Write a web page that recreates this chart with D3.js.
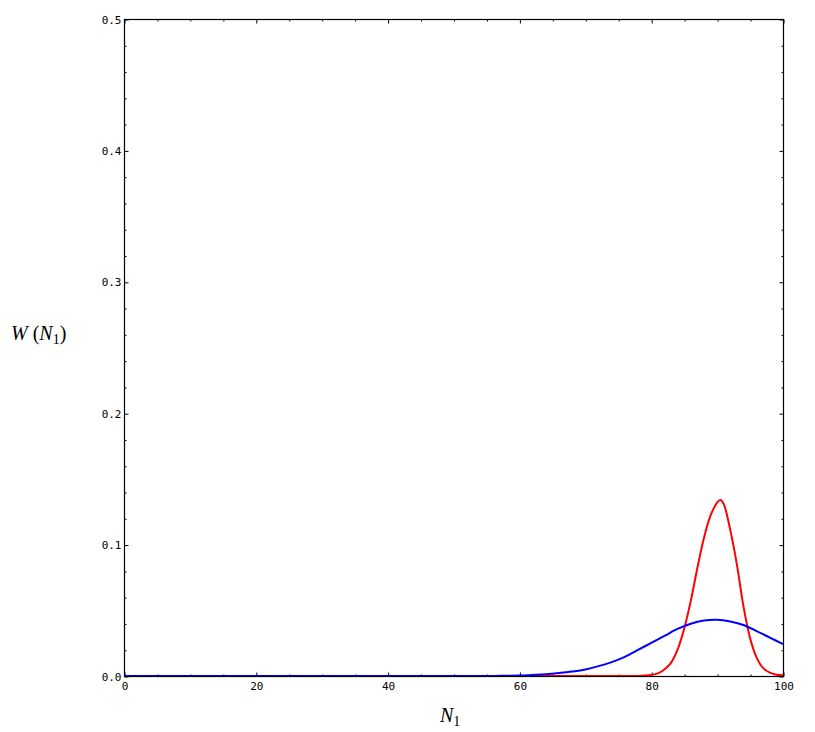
<!DOCTYPE html>
<html>
<head>
<meta charset="utf-8">
<script src="https://cdn.jsdelivr.net/npm/d3@7/dist/d3.min.js"></script>
<style>
  html, body { margin: 0; padding: 0; background: #fff; }
  svg { display: block; }
  .tick text { font-family: "DejaVu Sans Mono", monospace; font-size: 11px; fill: #000; }
  .lbl { font-family: "Liberation Serif", "Times New Roman", serif; font-size: 20px; fill: #000; }
</style>
</head>
<body>
<svg id="chart" width="815" height="732"></svg>
<script>
// ---- data ----
const xMajorTicks = [0, 20, 40, 60, 80, 100];
const yMajorTicks = [0.0, 0.1, 0.2, 0.3, 0.4, 0.5];
const yTickLabels = ["0.0", "0.1", "0.2", "0.3", "0.4", "0.5"];

// red curve (narrow distribution)
const redN = [0, 20, 40, 60, 70, 76, 78, 79, 80, 81, 82, 83, 84, 85, 86, 87, 88, 89, 90, 90.5, 91, 92, 93, 94, 95, 96, 97, 98, 99, 100];
const redW = [0, 0, 0, 0, 0, 0, 0, 0.0003, 0.0008, 0.002, 0.005, 0.010, 0.020, 0.036, 0.057, 0.082, 0.105, 0.122, 0.132, 0.134, 0.131, 0.111, 0.085, 0.053, 0.029, 0.014, 0.006, 0.0025, 0.001, 0.0005];

// blue curve (wide distribution)
const blueN = [0, 20, 40, 50, 56, 58, 60, 62, 64, 66, 68, 70, 72, 74, 76, 78, 80, 82, 84, 86, 88, 90, 92, 94, 96, 98, 100];
const blueW = [0, 0, 0, 0, 0, 0.0002, 0.0004, 0.0008, 0.0013, 0.0022, 0.0034, 0.0050, 0.0075, 0.0106, 0.0146, 0.0198, 0.0252, 0.0305, 0.0358, 0.0398, 0.0422, 0.0428, 0.0414, 0.0388, 0.0342, 0.0292, 0.0243];

// ---- layout ----
const svg = d3.select("#chart");
const L = 124, R = 783, T = 19, B = 676;

const x = d3.scaleLinear().domain([0, 100]).range([L, R]);
const y = d3.scaleLinear().domain([0, 0.5]).range([B, T]);

const xMinor = d3.range(0, 101, 5).filter(v => v % 20 !== 0);
const yMinor = d3.range(0, 0.5001, 0.02).filter(v => Math.abs(v * 10 - Math.round(v * 10)) > 1e-6);

// frame
svg.append("rect").attr("x", L + 0.5).attr("y", T + 0.5)
  .attr("width", R - L).attr("height", B - T)
  .attr("fill", "none").attr("stroke", "#000").attr("stroke-width", 1.2);

function addAxis(axis, transform) {
  const g = svg.append("g").attr("transform", transform).call(axis);
  g.select(".domain").remove();
  g.selectAll(".tick line").attr("stroke", "#000");
  return g;
}

// bottom axis: majors labelled, ticks inward
addAxis(d3.axisBottom(x).tickValues(xMajorTicks).tickSizeInner(-4).tickSizeOuter(0).tickPadding(6).tickFormat(d3.format("d")), `translate(0.5,${B + 0.5})`)
  .selectAll(".tick text").attr("dy", "0.71em");
addAxis(d3.axisBottom(x).tickValues(xMinor).tickSizeInner(-2).tickSizeOuter(0).tickFormat(""), `translate(0.5,${B + 0.5})`);
// top axis
addAxis(d3.axisTop(x).tickValues(xMajorTicks).tickSizeInner(-4).tickSizeOuter(0).tickFormat(""), `translate(0.5,${T + 0.5})`);
addAxis(d3.axisTop(x).tickValues(xMinor).tickSizeInner(-2).tickSizeOuter(0).tickFormat(""), `translate(0.5,${T + 0.5})`);
// left axis
addAxis(d3.axisLeft(y).tickValues(yMajorTicks).tickSizeInner(-4).tickSizeOuter(0).tickPadding(3).tickFormat((d, i) => yTickLabels[i]), `translate(${L + 0.5},0.5)`);
addAxis(d3.axisLeft(y).tickValues(yMinor).tickSizeInner(-2).tickSizeOuter(0).tickFormat(""), `translate(${L + 0.5},0.5)`);
// right axis
addAxis(d3.axisRight(y).tickValues(yMajorTicks).tickSizeInner(-4).tickSizeOuter(0).tickFormat(""), `translate(${R + 0.5},0.5)`);
addAxis(d3.axisRight(y).tickValues(yMinor).tickSizeInner(-2).tickSizeOuter(0).tickFormat(""), `translate(${R + 0.5},0.5)`);

// curves
const line = d3.line().x(d => x(d[0])).y(d => y(Math.max(0, d[1]))).curve(d3.curveCatmullRom.alpha(0.5));
svg.append("clipPath").attr("id", "clip").append("rect")
  .attr("x", L).attr("y", T).attr("width", R - L + 1).attr("height", B - T);

svg.append("path").datum(redN.map((n, i) => [n, redW[i]]))
  .attr("d", line).attr("fill", "none").attr("stroke", "#ff0000").attr("stroke-width", 2)
  .attr("clip-path", "url(#clip)");
svg.append("path").datum(blueN.map((n, i) => [n, blueW[i]]))
  .attr("d", line).attr("fill", "none").attr("stroke", "#0000ff").attr("stroke-width", 2)
  .attr("clip-path", "url(#clip)");

// axis labels
const yl = svg.append("text").attr("class", "lbl").attr("x", 11).attr("y", 340);
yl.append("tspan").attr("font-style", "italic").text("W");
yl.append("tspan").attr("dx", 5).text("(");
yl.append("tspan").attr("font-style", "italic").text("N");
yl.append("tspan").attr("font-size", "14px").attr("dy", 4).text("1");
yl.append("tspan").attr("dy", -4).text(")");

const xl = svg.append("text").attr("class", "lbl").attr("x", 440).attr("y", 722);
xl.append("tspan").attr("font-style", "italic").text("N");
xl.append("tspan").attr("font-size", "14px").attr("dy", 4).text("1");
</script>
</body>
</html>
